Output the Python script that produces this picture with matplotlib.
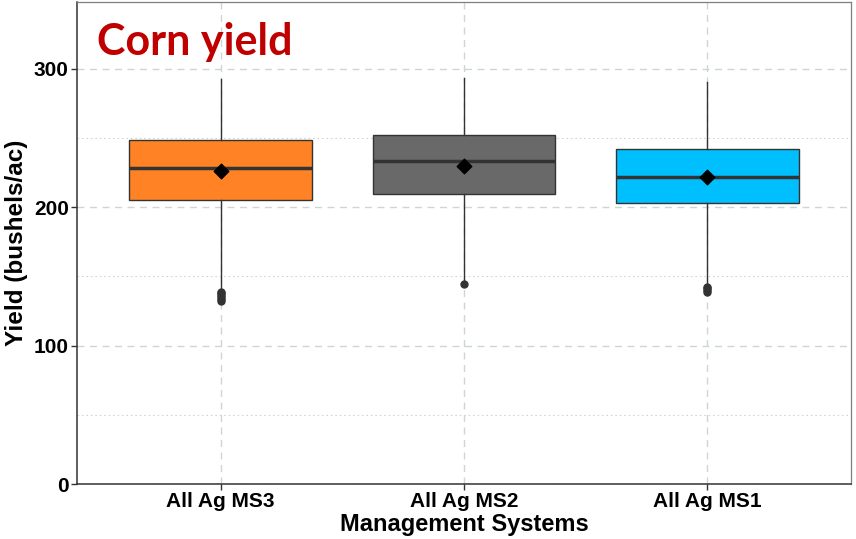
import numpy as np
import matplotlib.pyplot as plt

# Corn yield summary statistics per management system (bushels/ac)
systems = ["All Ag MS3", "All Ag MS2", "All Ag MS1"]
colors = ["#FF8325", "#696969", "#00BFFF"]
q1 = [205.1, 209.2, 202.9]
median = [228.0, 233.5, 221.4]
q3 = [248.7, 251.8, 242.2]
mean = [225.8, 229.4, 221.4]
whisker_lo = [141.0, 146.0, 143.5]
whisker_hi = [292.8, 293.3, 290.4]
outliers = [
    [132.0, 133.5, 135.0, 136.5, 138.0, 139.0],
    [144.3],
    [138.5, 140.0, 141.5, 142.2],
]

plt.rcParams.update({'font.family': 'Liberation Sans', 'font.weight': 'bold'})
fig = plt.figure(figsize=(8.56, 5.39), dpi=100)
ax = fig.add_axes([0.09, 0.102, 0.904, 0.894])

grid_col = "#cdd6d6"
for y in [50, 150, 250]:
    ax.axhline(y, color=grid_col, lw=0.8, ls=(0, (1.5, 2.5)), zorder=0)
for y in [0, 100, 200, 300]:
    ax.axhline(y, color=grid_col, lw=1.0, ls=(0, (5, 4)), zorder=0)
xs = np.arange(1, len(systems) + 1)
for x in xs:
    ax.axvline(x, color=grid_col, lw=1.0, ls=(0, (5, 4)), zorder=0)

stats = []
for i in range(len(systems)):
    stats.append(dict(med=median[i], q1=q1[i], q3=q3[i], whislo=whisker_lo[i],
                      whishi=whisker_hi[i], fliers=outliers[i], label=systems[i]))

bp = ax.bxp(stats, positions=xs, widths=0.75, patch_artist=True, showcaps=False,
            boxprops=dict(edgecolor="#333333", linewidth=1.0),
            medianprops=dict(color="#333333", linewidth=2.5),
            whiskerprops=dict(color="#333333", linewidth=1.0),
            flierprops=dict(marker='o', markersize=5, markerfacecolor="#333333",
                            markeredgecolor="#333333"))
for patch, c in zip(bp['boxes'], colors):
    patch.set_facecolor(c)
    patch.set_zorder(2)

ax.scatter(xs, mean, marker='D', s=55, color='black', zorder=4)

ax.set_xlim(0.41, 3.59)
ax.set_ylim(0, 348)
ax.set_xticks(xs)
ax.set_xticklabels(systems, fontsize=15, fontweight='bold')
ax.set_yticks([0, 100, 200, 300])
ax.set_yticklabels(["0", "100", "200", "300"], fontsize=15, fontweight='bold')
ax.tick_params(axis='both', length=4, width=1, color="#333333", pad=2)

for side in ['top', 'right']:
    ax.spines[side].set_color("#7f7f7f")
    ax.spines[side].set_linewidth(0.9)
for side in ['left', 'bottom']:
    ax.spines[side].set_color("#333333")
    ax.spines[side].set_linewidth(1.1)

ax.set_xlabel("Management Systems", fontsize=17, fontweight='bold', labelpad=1)
ax.set_ylabel("Yield (bushels/ac)", fontsize=17.5, fontweight='bold', labelpad=4)

ax.text(0.026, 0.89, "Corn yield", transform=ax.transAxes, fontsize=31,
        fontweight='bold', color="#C00000", family='Lato', va='baseline', ha='left')

fig.savefig("out.png", dpi=100)
